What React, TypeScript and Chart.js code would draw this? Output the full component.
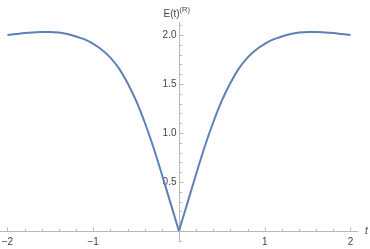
import React, { useEffect, useRef } from "react";
import { Chart, registerables } from "chart.js";

Chart.register(...registerables);

// Curve samples
const tLeft = [-2.0, -1.9, -1.8, -1.7, -1.6, -1.5, -1.4, -1.3, -1.2, -1.1, -1.0, -0.9, -0.8, -0.7, -0.6, -0.5, -0.4, -0.3, -0.2, -0.1, 0.0];
const eLeft = [2.0, 2.01, 2.02, 2.027, 2.032, 2.032, 2.025, 2.01, 1.985, 1.955, 1.91, 1.85, 1.77, 1.66, 1.51, 1.33, 1.11, 0.86, 0.58, 0.29, 0.0];
const tRight = [0.0, 0.1, 0.2, 0.3, 0.4, 0.5, 0.6, 0.7, 0.8, 0.9, 1.0, 1.1, 1.2, 1.3, 1.4, 1.5, 1.6, 1.7, 1.8, 1.9, 2.0];
const eRight = [0.0, 0.29, 0.58, 0.86, 1.11, 1.33, 1.51, 1.66, 1.77, 1.85, 1.91, 1.955, 1.985, 2.01, 2.025, 2.032, 2.032, 2.027, 2.02, 2.01, 2.0];

// Ticks
const xMajorTicks = [-2, -1, 1, 2];
const xTickLabels = ["\u22122", "\u22121", "1", "2"];
const xMinorTicks = [-1.8, -1.6, -1.4, -1.2, -0.8, -0.6, -0.4, -0.2, 0.2, 0.4, 0.6, 0.8, 1.2, 1.4, 1.6, 1.8];
const yMajorTicks = [0.5, 1.0, 1.5, 2.0];
const yTickLabels = ["0.5", "1.0", "1.5", "2.0"];
const yMinorTicks = [-0.1, 0.1, 0.2, 0.3, 0.4, 0.6, 0.7, 0.8, 0.9, 1.1, 1.2, 1.3, 1.4, 1.6, 1.7, 1.8, 1.9, 2.1];

const xLabel = "t";
const yLabelMain = "E(t)";
const yLabelSup = "(R)";

const axisColor = "#b8b8b8";
const tickLabelColor = "#444444";
const curveColor = "#5e81b5";

const axesPlugin = {
  id: "mmaAxes",
  beforeDatasetsDraw(chart: any) {
    const { ctx, chartArea } = chart;
    const xs = chart.scales.x;
    const ys = chart.scales.y;
    const x0 = Math.round(xs.getPixelForValue(0)) + 0.5;
    const y0 = Math.round(ys.getPixelForValue(0)) + 0.5;
    ctx.save();
    ctx.strokeStyle = axisColor;
    ctx.lineWidth = 1;
    ctx.beginPath();
    ctx.moveTo(chartArea.left, y0);
    ctx.lineTo(chartArea.right, y0);
    ctx.moveTo(x0, chartArea.top);
    ctx.lineTo(x0, chartArea.bottom);
    // x ticks (upward)
    xMajorTicks.forEach((v) => {
      const px = Math.round(xs.getPixelForValue(v)) + 0.5;
      ctx.moveTo(px, y0);
      ctx.lineTo(px, y0 - 4);
    });
    xMinorTicks.forEach((v) => {
      const px = Math.round(xs.getPixelForValue(v)) + 0.5;
      ctx.moveTo(px, y0);
      ctx.lineTo(px, y0 - 2.5);
    });
    // y ticks (rightward)
    yMajorTicks.forEach((v) => {
      const py = Math.round(ys.getPixelForValue(v)) + 0.5;
      ctx.moveTo(x0, py);
      ctx.lineTo(x0 + 4, py);
    });
    yMinorTicks.forEach((v) => {
      const py = Math.round(ys.getPixelForValue(v)) + 0.5;
      ctx.moveTo(x0, py);
      ctx.lineTo(x0 + 2.5, py);
    });
    ctx.stroke();

    // tick labels
    ctx.fillStyle = tickLabelColor;
    ctx.font = '10px "Liberation Sans", Arial, sans-serif';
    ctx.textAlign = "center";
    ctx.textBaseline = "middle";
    xMajorTicks.forEach((v, i) => {
      const px = xs.getPixelForValue(v);
      ctx.fillText(xTickLabels[i], px, y0 + 11);
    });
    ctx.textAlign = "right";
    yMajorTicks.forEach((v, i) => {
      const py = ys.getPixelForValue(v);
      ctx.fillText(yTickLabels[i], x0 - 3, py + 0.5);
    });

    // axis labels
    ctx.textAlign = "left";
    ctx.textBaseline = "alphabetic";
    ctx.font = 'italic 10px "Liberation Sans", Arial, sans-serif';
    ctx.fillText(xLabel, chartArea.right + 7, y0 + 2);
    ctx.font = '10px "Liberation Sans", Arial, sans-serif';
    const mainW = ctx.measureText(yLabelMain).width;
    const lx = x0 - 16;
    ctx.fillText(yLabelMain, lx, 17);
    ctx.font = '7.5px "Liberation Sans", Arial, sans-serif';
    ctx.fillText(yLabelSup, lx + mainW, 12);
    ctx.restore();
  },
};

export default function App() {
  const canvasRef = useRef<HTMLCanvasElement | null>(null);
  useEffect(() => {
    document.body.style.margin = "0";
    const canvas = canvasRef.current;
    if (!canvas) return;
    const common = {
      borderColor: curveColor,
      borderWidth: 2,
      pointRadius: 0,
      cubicInterpolationMode: "monotone" as const,
      fill: false,
    };
    const chart = new Chart(canvas, {
      type: "line",
      data: {
        datasets: [
          { ...common, data: tLeft.map((t, i) => ({ x: t, y: eLeft[i] })) },
          { ...common, data: tRight.map((t, i) => ({ x: t, y: eRight[i] })) },
        ],
      },
      options: {
        animation: false,
        responsive: false,
        maintainAspectRatio: false,
        events: [],
        layout: { padding: { left: 0, right: 12, top: 22, bottom: 7 } },
        plugins: { legend: { display: false }, tooltip: { enabled: false } },
        scales: {
          x: { type: "linear", min: -2.087, max: 2.088, display: false },
          y: { type: "linear", min: -0.112, max: 2.133, display: false },
        },
      },
      plugins: [axesPlugin],
    });
    return () => chart.destroy();
  }, []);
  return (
    <div style={{ width: 370, height: 249 }}>
      <canvas ref={canvasRef} width={370} height={249} style={{ display: "block", width: 370, height: 249 }} />
    </div>
  );
}
